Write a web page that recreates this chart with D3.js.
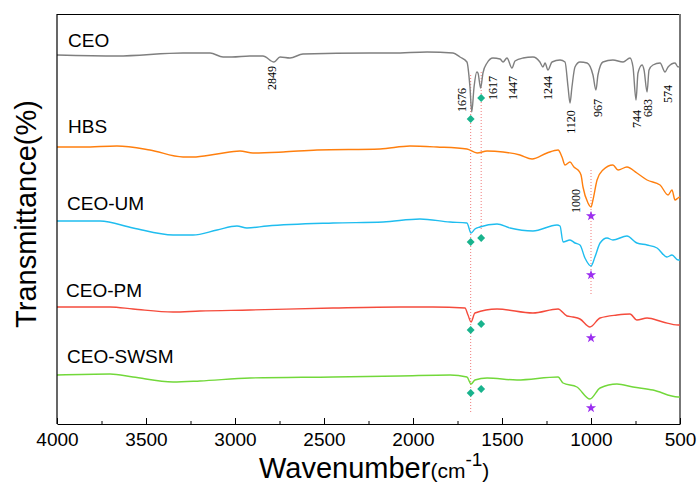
<!DOCTYPE html>
<html>
<head>
<meta charset="utf-8">
<script src="https://cdn.jsdelivr.net/npm/d3@7"></script>
<style>
  body { margin: 0; background: #fff; }
  svg text { font-family: "Liberation Sans", Arial, sans-serif; }
</style>
</head>
<body>
<div id="chart"></div>
<script>
// FTIR spectra, values (arbitrary stacked transmittance units)
var ceoWave = [4000,3663,3292,3140,3067,3017,2916,2843,2781,2747,2691,2618,2242,2112,1921,1775,1736,1697,1680,1670,1657,1642,1635,1620,1607,1584,1551,1511,1494,1472,1444,1427,1382,1326,1287,1270,1258,1242,1219,1174,1146,1129,1118,1107,1090,1062,1022,989,972,961,933,877,820,781,764,747,736,713,702,685,674,652,612,584,567,528,511,500];
var ceoVal  = [369,368,371,371,367,367,368,368,362,367,366,370,371,371,372,371,367,362,337,312,337,352,351,336,351,361,366,365,362,366,356,363,366,367,362,357,361,354,362,364,362,337,321,337,357,362,361,349,334,349,362,364,362,366,357,324,351,359,354,332,354,359,361,352,357,361,357,358];

var hbsWave = [4000,3854,3663,3478,3292,3236,3101,2972,2899,2730,2539,2185,2017,1865,1697,1640,1584,1494,1399,1331,1247,1185,1163,1146,1118,1096,1073,1056,1045,1017,1000,989,966,933,877,848,798,742,685,612,567,545,528,511,500];
var hbsVal  = [277,277,278,274,267,267,270,273,271,272,274,275,278,277,275,271,273,272,269,265,271,274,267,259,262,257,254,249,237,221,217,224,244,254,259,254,257,251,244,239,229,234,224,226,227];

var umWave = [4000,3758,3573,3348,3236,3101,2989,2933,2820,2449,2168,1961,1792,1697,1674,1652,1624,1528,1455,1326,1191,1174,1157,1118,1090,1062,1034,1000,978,949,910,877,798,742,685,629,573,545,511,500];
var umVal  = [203,203,196,189,189,194,198,196,198,201,202,205,202,201,191,195,197,200,196,193,199,198,182,184,181,179,166,158,167,181,186,184,188,181,179,176,167,169,164,164];

var pmWave = [4000,3702,3573,3348,3197,2916,2449,2073,1888,1708,1691,1674,1652,1528,1326,1185,1135,1101,1062,1006,949,854,781,742,685,596,511,500];
var pmVal  = [117,117,115,112,113,114,116,117,117,116,109,102,111,115,111,115,108,107,105,97,106,109,110,104,106,102,99,99];

var swsmWave = [4000,3702,3573,3348,3197,2916,2449,2073,1792,1697,1674,1652,1584,1416,1185,1157,1079,1006,949,854,764,652,511,500];
var swsmVal  = [49,50,47,42,43,46,47,48,49,47,40,44,46,44,47,41,37,25,36,40,37,34,27,27];

var seriesNames  = ["CEO", "HBS", "CEO-UM", "CEO-PM", "CEO-SWSM"];
var seriesColors = ["#7f7f7f", "#ff7f0e", "#1fbdef", "#f54b3c", "#72d83a"];

// marker levels: diamonds at 1676 / 1617, stars at 1000
var diamondWave = [1676, 1617];
var diamondVal  = [[305, 326], [null, null], [182, 186], [94, 100], [31, 35]];
var starWave = 1000;
var starVal  = [null, 208, 149, 86, 16];

// dotted guide lines [wavenumber, from, to]
var guideLines = [[1676, 349, 12], [1617, 352, 194], [1000, 254, 129]];

// peak labels [text, anchor wavenumber, level]
var peakLabels = [["2849",2770,346],["1676",1702,324],["1617",1528,336],["1447",1416,336],["1244",1219,336],
  ["1120",1090,302],["967",938,316],["744",719,305],["683",657,316],["574",545,330],["1000",1062,223]];

var majorTicks = [4000,3500,3000,2500,2000,1500,1000,500];
var minorTicks = [3750,3250,2750,2250,1750,1250,750];

var mrg = {top: 14, right: 17, bottom: 62, left: 57},
    W = 697 - mrg.left - mrg.right,
    H = 486 - mrg.top - mrg.bottom;

var svg = d3.select("#chart").append("svg")
  .attr("width", 697).attr("height", 486);
var chart = svg.append("g")
  .attr("transform", `translate(${mrg.left},${mrg.top})`);

var xScale = d3.scaleLinear().domain([4000, 500]).range([0, W]);
var yScale = d3.scaleLinear().domain([0, 410]).range([H, 0]);

// frame top + right
chart.append("line").attr("x1", 0).attr("x2", W).attr("y1", 0.5).attr("y2", 0.5)
  .attr("stroke", "#000").attr("stroke-width", 1.2);
chart.append("line").attr("x1", W).attr("x2", W).attr("y1", 0).attr("y2", H)
  .attr("stroke", "#777").attr("stroke-width", 2);

// guides
chart.selectAll(".guide").data(guideLines).enter().append("line")
  .attr("class", "guide")
  .attr("x1", d => xScale(d[0])).attr("x2", d => xScale(d[0]))
  .attr("y1", d => yScale(d[1])).attr("y2", d => yScale(d[2]))
  .attr("stroke", "#f07a7a").attr("stroke-width", 1).attr("stroke-dasharray", "1,2");

var waves = [ceoWave, hbsWave, umWave, pmWave, swsmWave];
var vals  = [ceoVal, hbsVal, umVal, pmVal, swsmVal];
var line = d3.line().curve(d3.curveMonotoneX)
  .x(d => xScale(d[0])).y(d => yScale(d[1]));

seriesNames.forEach(function(name, i) {
  var pts = waves[i].map((w, j) => [w, vals[i][j]]);
  chart.append("path").datum(pts)
    .attr("fill", "none").attr("stroke", seriesColors[i])
    .attr("stroke-width", 1.4).attr("stroke-linejoin", "round")
    .attr("d", line);
});

// series names
var nameY = [47, 133, 210, 297, 363];
var nameX = [68, 68, 67, 66, 67];
seriesNames.forEach(function(name, i) {
  svg.append("text").attr("x", nameX[i]).attr("y", nameY[i])
    .attr("font-size", 19).attr("fill", "#000").text(name);
});

// diamonds
var diamond = d3.symbol().type(d3.symbolDiamond2).size(40);
diamondVal.forEach(function(pair) {
  pair.forEach(function(v, k) {
    if (v == null) return;
    chart.append("path").attr("d", diamond)
      .attr("transform", `translate(${xScale(diamondWave[k])},${yScale(v)})`)
      .attr("fill", "#19b38d");
  });
});

// stars
var star = d3.symbol().type(d3.symbolStar).size(32);
starVal.forEach(function(v) {
  if (v == null) return;
  chart.append("path").attr("d", star)
    .attr("transform", `translate(${xScale(starWave)},${yScale(v)})`)
    .attr("fill", "#9b2ff0");
});

// peak labels
chart.selectAll(".peak").data(peakLabels).enter().append("text")
  .attr("class", "peak")
  .attr("transform", d => `translate(${xScale(d[1])},${yScale(d[2])}) rotate(-90)`)
  .attr("text-anchor", "middle")
  .style("font-family", "'Liberation Serif', 'Times New Roman', serif")
  .attr("font-size", 12).attr("fill", "#000")
  .text(d => d[0]);

// axes
var xAxis = chart.append("g").attr("transform", `translate(0,${H})`)
  .call(d3.axisBottom(xScale).tickValues(majorTicks).tickFormat(d3.format("d"))
    .tickSizeInner(-6).tickSizeOuter(0).tickPadding(9));
xAxis.selectAll("text").attr("font-size", 19).attr("fill", "#000")
  .style("font-family", "'Liberation Sans', Arial, sans-serif");
xAxis.select(".domain").attr("stroke", "#000").attr("stroke-width", 1.2);

chart.append("g").attr("transform", `translate(0,${H})`)
  .call(d3.axisBottom(xScale).tickValues(minorTicks).tickFormat("")
    .tickSizeInner(-3).tickSizeOuter(0))
  .select(".domain").remove();

chart.append("line").attr("x1", 0).attr("x2", 0).attr("y1", 0).attr("y2", H)
  .attr("stroke", "#000").attr("stroke-width", 1.2);

// axis titles
var xt = svg.append("text").attr("x", 259).attr("y", 478).attr("font-size", 29).attr("fill", "#000");
xt.append("tspan").text("Wavenumber");
xt.append("tspan").attr("font-size", 21).text("(cm");
xt.append("tspan").attr("font-size", 19).attr("dy", -12).text("-1");
xt.append("tspan").attr("font-size", 21).attr("dy", 12).text(")");

svg.append("text")
  .attr("transform", "translate(36,214) rotate(-90)")
  .attr("text-anchor", "middle").attr("font-size", 29).attr("fill", "#000")
  .text("Transmittance(%)");
</script>
</body>
</html>
